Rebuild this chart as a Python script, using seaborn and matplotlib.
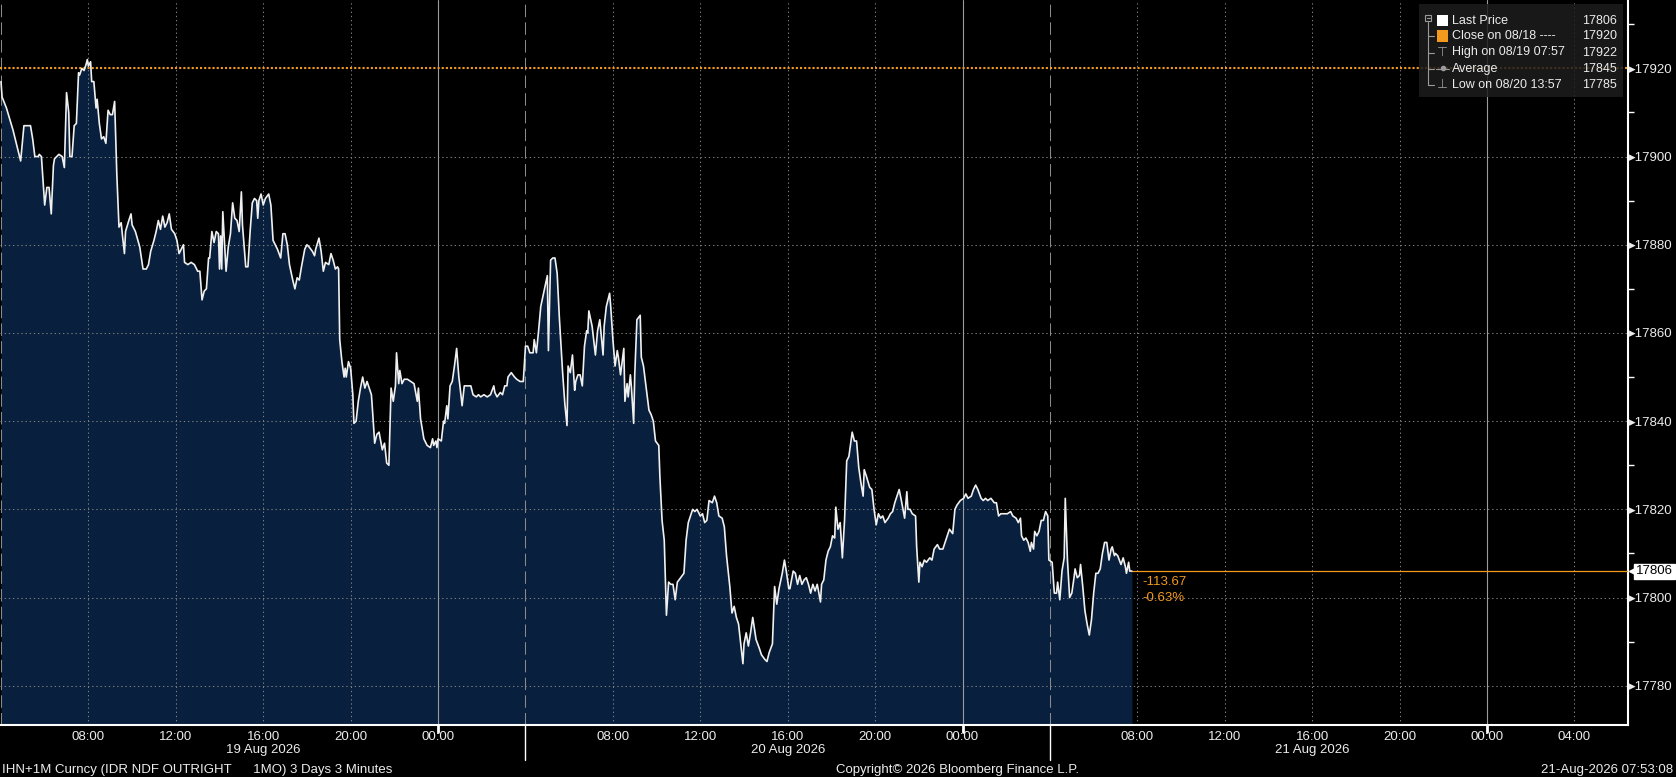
import numpy as np
import pandas as pd
import matplotlib
matplotlib.use("Agg")
import matplotlib.pyplot as plt
import matplotlib.dates as mdates
import matplotlib.transforms as mtransforms
from matplotlib.patches import Rectangle
import seaborn as sns

# minutes after 19 Aug 2026 04:00 and the 3-minute last price
minutes = [
    0, 3, 15, 33, 54, 63, 81, 87, 93, 102, 105, 111,
    120, 126, 132, 138, 144, 147, 153, 159, 168, 174, 180, 186,
    189, 195, 201, 207, 213, 216, 222, 228, 234, 237, 240, 246,
    249, 255, 261, 264, 270, 276, 282, 288, 294, 300, 306, 312,
    318, 324, 330, 333, 339, 342, 351, 357, 360, 369, 381, 390,
    399, 405, 411, 420, 426, 432, 438, 444, 450, 456, 462, 468,
    477, 483, 489, 495, 501, 504, 513, 522, 531, 540, 546, 552,
    558, 564, 570, 573, 579, 585, 591, 597, 600, 603, 606, 609,
    618, 624, 630, 636, 642, 648, 654, 660, 663, 672, 678, 684,
    690, 696, 702, 705, 708, 714, 720, 726, 735, 741, 747, 753,
    759, 768, 774, 780, 786, 792, 801, 807, 813, 819, 825, 834,
    840, 846, 855, 861, 864, 873, 879, 885, 891, 900, 906, 912,
    918, 924, 927, 930, 936, 942, 945, 948, 954, 960, 966, 969,
    975, 981, 987, 993, 999, 1005, 1011, 1017, 1020, 1026, 1032, 1038,
    1047, 1053, 1059, 1065, 1071, 1077, 1083, 1086, 1092, 1095, 1101, 1107,
    1116, 1125, 1134, 1143, 1146, 1152, 1158, 1161, 1170, 1179, 1185, 1188,
    1194, 1197, 1200, 1209, 1215, 1218, 1224, 1227, 1233, 1239, 1245, 1251,
    1257, 1260, 1266, 1272, 1281, 1290, 1296, 1305, 1311, 1317, 1326, 1335,
    1344, 1353, 1356, 1362, 1371, 1377, 1383, 1389, 1392, 1401, 1410, 1416,
    1425, 1434, 1440, 1446, 1452, 1461, 1464, 1470, 1476, 1482, 1491, 1500,
    1503, 1509, 1515, 1521, 1527, 1533, 1542, 1548, 1554, 1557, 1563, 1569,
    1575, 1578, 1584, 1590, 1596, 1602, 1608, 1611, 1614, 1623, 1632, 1638,
    1644, 1653, 1656, 1662, 1671, 1674, 1680, 1686, 1692, 1695, 1701, 1710,
    1713, 1719, 1722, 1728, 1731, 1737, 1740, 1746, 1755, 1758, 1764, 1770,
    1779, 1785, 1791, 1797, 1806, 1809, 1815, 1821, 1827, 1833, 1839, 1845,
    1851, 1857, 1866, 1875, 1881, 1887, 1893, 1899, 1905, 1911, 1920, 1926,
    1932, 1938, 1944, 1953, 1959, 1965, 1971, 1980, 1986, 1992, 2001, 2007,
    2013, 2019, 2025, 2037, 2040, 2046, 2052, 2058, 2064, 2073, 2082, 2088,
    2097, 2103, 2109, 2118, 2124, 2130, 2136, 2145, 2151, 2157, 2163, 2166,
    2175, 2181, 2187, 2193, 2199, 2205, 2211, 2217, 2223, 2229, 2235, 2241,
    2250, 2253, 2259, 2265, 2271, 2277, 2283, 2289, 2292, 2298, 2304, 2310,
    2316, 2322, 2328, 2337, 2343, 2349, 2355, 2361, 2367, 2370, 2376, 2385,
    2391, 2397, 2403, 2409, 2415, 2421, 2427, 2436, 2442, 2448, 2454, 2460,
    2466, 2472, 2481, 2487, 2490, 2496, 2502, 2511, 2514, 2520, 2523, 2529,
    2535, 2541, 2550, 2556, 2562, 2571, 2577, 2586, 2592, 2598, 2604, 2613,
    2619, 2625, 2634, 2643, 2649, 2655, 2664, 2670, 2676, 2682, 2691, 2697,
    2703, 2709, 2718, 2727, 2733, 2739, 2745, 2754, 2763, 2772, 2778, 2787,
    2793, 2799, 2802, 2808, 2814, 2820, 2826, 2829, 2835, 2838, 2844, 2850,
    2856, 2862, 2868, 2874, 2877, 2886, 2892, 2898, 2901, 2907, 2913, 2919,
    2922, 2928, 2934, 2940, 2946, 2949, 2955, 2961, 2964, 2970, 2976, 2982,
    2988, 2994, 3000, 3006, 3012, 3018, 3024, 3030, 3036, 3042, 3048, 3051,
    3057, 3060, 3066, 3075, 3081, 3087, 3090, 3096, 3099, 3105,
]
prices = [
    17917, 17913.5, 17911, 17906, 17899, 17907, 17907, 17904, 17900, 17900, 17900.5, 17900,
    17889, 17893, 17893, 17887, 17898, 17899.5, 17900, 17900.5, 17900, 17897.5, 17914.5, 17910,
    17900, 17900, 17907, 17907.5, 17919, 17918.5, 17920, 17919.5, 17921, 17922, 17920.5, 17921.5,
    17917, 17917, 17911, 17913, 17907.5, 17904, 17904.5, 17903, 17910.5, 17909.5, 17909.5, 17912.5,
    17896, 17884, 17885, 17882.5, 17878, 17883, 17885.5, 17887, 17884.5, 17883, 17879.5, 17874.5,
    17874.5, 17875.5, 17878.5, 17881, 17883, 17885.5, 17883.5, 17886.5, 17884, 17885, 17887, 17883.5,
    17882.5, 17881, 17878, 17879, 17880, 17876, 17875.5, 17876, 17875.5, 17874, 17874, 17867.5,
    17869.5, 17870, 17877, 17877, 17883, 17880.5, 17883, 17882.5, 17874.5, 17882, 17874.5, 17887.5,
    17874, 17879.5, 17882.5, 17889.5, 17886, 17885.5, 17883, 17892, 17884.5, 17875, 17875, 17883,
    17889.5, 17890.5, 17890, 17886, 17890, 17891.5, 17889, 17890.5, 17891.5, 17889, 17881, 17880,
    17879, 17877, 17882.5, 17882.5, 17880, 17875.5, 17872, 17870, 17872.5, 17872, 17875, 17879,
    17880, 17879.5, 17878.5, 17877.5, 17879, 17881.5, 17878.5, 17874, 17876, 17875.5, 17878, 17876.5,
    17874.5, 17875, 17874.5, 17858.5, 17853.5, 17850, 17852, 17850, 17853.5, 17852, 17846, 17839.5,
    17840, 17844.5, 17847.5, 17850, 17847.5, 17849, 17847.5, 17846, 17842.5, 17835, 17837, 17837.5,
    17833.5, 17835, 17830.5, 17830, 17847.5, 17844.5, 17848, 17855.5, 17848.5, 17851.5, 17848.5, 17849.5,
    17849.5, 17849, 17848.5, 17844.5, 17847.5, 17840.5, 17837.5, 17836, 17834.5, 17834, 17836, 17834.5,
    17835.5, 17834, 17836, 17835.5, 17840, 17839.5, 17843.5, 17840.5, 17848, 17849, 17852.5, 17856.5,
    17850, 17848, 17843.5, 17848, 17848, 17848, 17846, 17845.5, 17846, 17845.5, 17846, 17845.5,
    17846, 17848, 17846.5, 17845.5, 17846.5, 17846, 17848, 17848, 17850, 17851, 17850, 17849.5,
    17849, 17849, 17857, 17857, 17855.5, 17855.5, 17858.5, 17855.5, 17860.5, 17866, 17869.5, 17873,
    17856, 17876.5, 17877, 17877, 17873.5, 17863.5, 17851, 17844, 17839, 17852.5, 17851, 17855,
    17847, 17849, 17850.5, 17850.5, 17848, 17857, 17860.5, 17860, 17865, 17861.5, 17855, 17860.5,
    17863, 17855, 17861.5, 17866, 17869, 17866, 17858.5, 17852.5, 17856, 17854.5, 17850.5, 17856.5,
    17844.5, 17848.5, 17845.5, 17850.5, 17847.5, 17839.5, 17850.5, 17863, 17864, 17854.5, 17852.5, 17848.5,
    17842.5, 17841.5, 17840, 17835.5, 17834.5, 17827.5, 17817.5, 17813, 17796, 17803.5, 17803, 17803,
    17799.5, 17803.5, 17804.5, 17805.5, 17813, 17817, 17818.5, 17820, 17819.5, 17820, 17818.5, 17819,
    17817, 17817.5, 17822, 17821.5, 17823, 17821.5, 17818.5, 17818, 17816, 17809.5, 17802.5, 17796.5,
    17798, 17795.5, 17794, 17785, 17789.5, 17792, 17789, 17792, 17795.5, 17790.5, 17788.5, 17787,
    17786, 17785.5, 17787.5, 17789.5, 17802.5, 17798.5, 17802, 17805.5, 17808.5, 17805.5, 17802, 17802,
    17806, 17805.5, 17803, 17805, 17803, 17804, 17804.5, 17803, 17801, 17803, 17801.5, 17803,
    17799, 17803, 17804, 17808.5, 17810.5, 17811.5, 17814, 17813.5, 17820.5, 17815.5, 17817, 17809,
    17817.5, 17831, 17832, 17837.5, 17835.5, 17835.5, 17829.5, 17826, 17823, 17829, 17827.5, 17825,
    17824.5, 17820, 17816.5, 17819, 17818, 17818.5, 17817, 17818, 17819, 17819.5, 17821.5, 17823,
    17824.5, 17822, 17818, 17824, 17820, 17820, 17819, 17818.5, 17811.5, 17803.5, 17808, 17807,
    17808.5, 17808, 17809, 17808.5, 17811, 17812, 17811, 17811, 17812.5, 17814, 17815.5, 17814.5,
    17820, 17821, 17822, 17822.5, 17823.5, 17822.5, 17823, 17824.5, 17825.5, 17824.5, 17822.5, 17822,
    17822.5, 17822, 17822.5, 17821.5, 17821.5, 17818.5, 17819, 17819, 17819, 17819.5, 17818.5, 17818,
    17817, 17818, 17814, 17813, 17813.5, 17812.5, 17810.5, 17812.5, 17811, 17815, 17814, 17815,
    17817.5, 17817.5, 17819.5, 17818.5, 17808.5, 17808, 17801, 17801, 17803.5, 17799.5, 17806, 17809,
    17822.5, 17808.5, 17800, 17801, 17804.5, 17806.5, 17804.5, 17805, 17807.5, 17802.5, 17797, 17794,
    17791.5, 17795, 17801, 17805.5, 17805.5, 17806.5, 17810, 17812.5, 17812.5, 17808.5, 17811, 17811.5,
    17809.5, 17810, 17809.5, 17807.5, 17809, 17807, 17805.5, 17808, 17806, 17806,
]
assert len(minutes) == len(prices)

prev_close = 17920
last_price = 17806
net_change = "-113.67"
pct_change = "-0.63%"
y_ticks = [17780, 17800, 17820, 17840, 17860, 17880, 17900, 17920]
y_minor = [17790, 17810, 17830, 17850, 17870, 17890, 17910, 17930]
day_labels = ["19 Aug 2026", "20 Aug 2026", "21 Aug 2026"]
legend_rows = [
    ("Last Price", "17806"),
    ("Close on 08/18 ----", "17920"),
    ("High on 08/19 07:57", "17922"),
    ("Average", "17845"),
    ("Low on 08/20 13:57", "17785"),
]
footer_left = "IHN+1M Curncy (IDR NDF OUTRIGHT      1MO) 3 Days 3 Minutes"
footer_mid = "Copyright\u00a9 2026 Bloomberg Finance L.P."
footer_right = "21-Aug-2026 07:53:08"

NAVY = "#08203e"
ORANGE = "#f39a1e"
GRID = "#7c7c7c"
TXT = "#ececec"
FONT = ["Liberation Sans", "DejaVu Sans"]
FS = 9.5

sns.set_theme(style="dark")
plt.rcParams["font.family"] = FONT
plt.rcParams["axes.facecolor"] = "black"
plt.rcParams["figure.facecolor"] = "black"

W, H = 1676, 777
start = pd.Timestamp("2026-08-19 04:00")
times = start + pd.to_timedelta(minutes, unit="m")
y_lo, y_hi = 17771.1, 17935.5

fig = plt.figure(figsize=(W / 100, H / 100), dpi=100)
ax = fig.add_axes([0, 1 - 725 / H, 1628 / W, 725 / H])
ax.set_facecolor("black")

ax.fill_between(times, prices, y_lo, color=NAVY, lw=0, zorder=1)
sns.lineplot(x=times, y=prices, ax=ax, color="#f0f0f0", linewidth=1.2, zorder=4)

ax.set_xlim(mdates.date2num(start - pd.Timedelta(minutes=2.7)),
            mdates.date2num(start + pd.Timedelta(minutes=4467)))
ax.set_ylim(y_lo, y_hi)

# grid
for y in y_ticks:
    ax.axhline(y, color=GRID, lw=0.75, ls=(0, (1.3, 2.7)), zorder=2)
label_ticks = []
for k in range(0, 75, 4):
    t = start + pd.Timedelta(hours=k)
    hour = (4 + k) % 24
    if hour == 4 and k < 72:
        ax.axvline(t, color="#8a8a8a", lw=0.75, ls=(0, (12, 5)), zorder=2)
    elif hour == 0:
        ax.axvline(t, color="#9c9c9c", lw=0.8, zorder=2)
        label_ticks.append(t)
    else:
        ax.axvline(t, color=GRID, lw=0.75, ls=(0, (1.3, 2.7)), zorder=2)
        label_ticks.append(t)

ax.axhline(prev_close, color=ORANGE, lw=1.5, ls=(0, (1, 1)), zorder=3)
ax.plot([times[-1], start + pd.Timedelta(minutes=4467)], [last_price, last_price],
        color=ORANGE, lw=0.9, zorder=3)
ax.annotate(net_change, xy=(times[-1], last_price), xytext=(10, -11),
            textcoords="offset pixels", color=ORANGE, fontsize=FS, va="center", ha="left")
ax.annotate(pct_change, xy=(times[-1], last_price), xytext=(10, -27),
            textcoords="offset pixels", color=ORANGE, fontsize=FS, va="center", ha="left")

# axes
for side in ["top", "left"]:
    ax.spines[side].set_visible(False)
for side in ["right", "bottom"]:
    ax.spines[side].set_visible(True)
    ax.spines[side].set_color("white")
    ax.spines[side].set_linewidth(1.5)

ax.set_xticks(label_ticks)
ax.set_xticklabels([t.strftime("%H:%M") for t in label_ticks])
ax.set_xticks([start + pd.Timedelta(hours=k) for k in range(2, 75, 4)], minor=True)
ax.tick_params(axis="x", which="major", length=0, pad=4, labelcolor=TXT, labelsize=FS)
ax.tick_params(axis="x", which="minor", length=4, width=1, color="white", direction="out")

ax.yaxis.tick_right()
ax.set_yticks(y_ticks)
ax.set_yticklabels(["\u25b8" + str(v) for v in y_ticks])
ax.set_yticks(y_minor, minor=True)
ax.tick_params(axis="y", which="major", length=0, pad=0.5, labelcolor=TXT, labelsize=FS)
ax.tick_params(axis="y", which="minor", length=4, width=1, color="white", direction="out")
ax.set_xlabel("")
ax.set_ylabel("")
ax.grid(False)

blend = mtransforms.blended_transform_factory(ax.transData, ax.transAxes)
for d in range(3):
    day0 = start + pd.Timedelta(days=d)
    if d > 0:
        x0 = mdates.date2num(day0)
        ax.plot([x0, x0], [0, -35 / 725], transform=blend, color="white", lw=1, clip_on=False)
    xm = mdates.date2num(day0 + pd.Timedelta(hours=12))
    ax.text(xm, -25.5 / 725, day_labels[d], transform=blend, ha="center", va="center",
            color=TXT, fontsize=FS)
    xz = mdates.date2num(day0 + pd.Timedelta(hours=20))
    ax.plot([xz, xz], [0, -7 / 725], transform=blend, color="white", lw=2, clip_on=False)

# last price tag on the axis
yblend = mtransforms.blended_transform_factory(ax.transAxes, ax.transData)
ax.plot([1 + 5 / 1628], [last_price], transform=yblend, marker="<", ms=6, color="white",
        clip_on=False, zorder=6)
ax.annotate(str(last_price), xy=(1, last_price), xycoords=yblend, xytext=(8, 0),
            textcoords="offset pixels", ha="left", va="center", color="black", fontsize=FS,
            bbox=dict(boxstyle="square,pad=0.12", fc="white", ec="white"), zorder=6)


# legend panel (figure pixel coordinates)
def fx(x):
    return x / W


def fy(y):
    return 1 - y / H


fig.add_artist(Rectangle((fx(1419), fy(97)), (1623 - 1419) / W, 93 / H,
                         transform=fig.transFigure, fc="#1d1d1d", ec="none", alpha=0.85, zorder=5))
row_y = [20.5, 36, 52.5, 69, 84.5]
icon_grey = "#9a9a9a"
fig.add_artist(Rectangle((fx(1425), fy(21)), 6 / W, 6 / H, transform=fig.transFigure,
                         fc="none", ec=icon_grey, lw=0.8, zorder=6))
fig.add_artist(plt.Line2D([fx(1426.5), fx(1429.5)], [fy(18), fy(18)], transform=fig.transFigure,
                          color=icon_grey, lw=0.8, zorder=6))
fig.add_artist(plt.Line2D([fx(1428), fx(1428)], [fy(22), fy(row_y[-1])], transform=fig.transFigure,
                          color=icon_grey, lw=0.8, zorder=6))
for yy in row_y[1:]:
    fig.add_artist(plt.Line2D([fx(1428), fx(1434)], [fy(yy), fy(yy)], transform=fig.transFigure,
                              color=icon_grey, lw=0.8, zorder=6))
for i, color in enumerate(["white", ORANGE]):
    fig.add_artist(Rectangle((fx(1437), fy(row_y[i] + 5.5)), 11 / W, 11 / H,
                             transform=fig.transFigure, fc=color, ec="none", zorder=6))
fig.text(fx(1442.5), fy(row_y[2]), "\u22a4", color=icon_grey, fontsize=9, ha="center",
         va="center", family="DejaVu Sans", zorder=6)
fig.text(fx(1442.5), fy(row_y[4]), "\u22a5", color=icon_grey, fontsize=9, ha="center",
         va="center", family="DejaVu Sans", zorder=6)
fig.add_artist(plt.Line2D([fx(1436), fx(1449)], [fy(row_y[3]), fy(row_y[3])],
                          transform=fig.transFigure, color=icon_grey, lw=0.8, zorder=6))
fig.add_artist(plt.Line2D([fx(1442.5)], [fy(row_y[3] - 1)], transform=fig.transFigure,
                          color=icon_grey, marker="o", ms=3, zorder=6))
for (label, value), yy in zip(legend_rows, row_y):
    fig.text(fx(1452), fy(yy), label, color=TXT, fontsize=9, ha="left", va="center", zorder=6)
    fig.text(fx(1617), fy(yy), value, color=TXT, fontsize=9, ha="right", va="center", zorder=6)

# footer
fig.text(fx(2), fy(770), footer_left, color=TXT, fontsize=FS, ha="left", va="center")
fig.text(fx(957), fy(770), footer_mid, color=TXT, fontsize=FS, ha="center", va="center")
fig.text(fx(1673), fy(770), footer_right, color=TXT, fontsize=FS, ha="right", va="center")

fig.savefig("out.png", dpi=100, facecolor="black")
